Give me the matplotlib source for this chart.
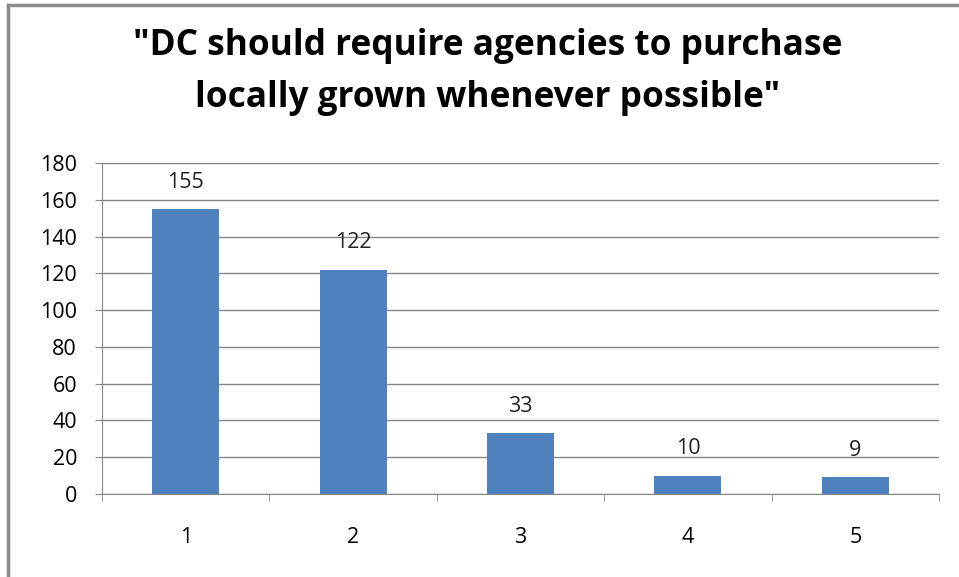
import matplotlib.pyplot as plt
from matplotlib.lines import Line2D

# データ
categories = ["1", "2", "3", "4", "5"]
counts = [155, 122, 33, 10, 9]
y_ticks = [0, 20, 40, 60, 80, 100, 120, 140, 160, 180]
title = '"DC should require agencies to purchase\nlocally grown whenever possible"'

W, H = 959, 577
fig = plt.figure(figsize=(W / 100, H / 100), dpi=100)
ax = fig.add_axes([102 / W, 1 - 494 / H, (939 - 102) / W, (494 - 163) / H])

grid_c = "#868686"
bar_c = "#4F81BD"

x = list(range(len(categories)))
ax.bar(x, counts, width=0.4, color=bar_c, zorder=3)
for xi, v in zip(x, counts):
    ax.text(xi, v + 14.5, str(v), ha="center", va="center", fontsize=15.5,
            family="Open Sans", color="#222222")

ax.set_xlim(-0.5, len(categories) - 0.5)
ax.set_ylim(0, 180)
ax.set_yticks(y_ticks)
ax.set_yticklabels([str(t) for t in y_ticks], fontsize=15.5, family="Open Sans")
ax.set_xticks(x)
ax.set_xticklabels(categories, fontsize=15.5, family="Open Sans")
ax.set_xticks([i - 0.5 for i in range(len(categories) + 1)], minor=True)
ax.tick_params(axis="x", which="major", length=0, pad=24)
ax.tick_params(axis="x", which="minor", length=5, color=grid_c)
ax.tick_params(axis="y", length=5, color=grid_c, pad=13)
ax.yaxis.grid(True, color=grid_c, linewidth=1)
ax.set_axisbelow(True)
for s in ["top", "right"]:
    ax.spines[s].set_visible(False)
ax.spines["left"].set_color(grid_c)
ax.spines["bottom"].set_color(grid_c)

fig.text(488 / W, 1 - 72 / H, title, ha="center", va="center", fontsize=25.4,
         fontweight="bold", family="Open Sans", linespacing=1.58)

# 外枠（上と左のみ）
fig.add_artist(Line2D([8 / W, 1], [1 - 5 / H, 1 - 5 / H], color="#8C8C8C", lw=2.5,
                      transform=fig.transFigure))
fig.add_artist(Line2D([8 / W, 8 / W], [0, 1 - 5 / H], color="#8C8C8C", lw=2.5,
                      transform=fig.transFigure))

fig.savefig("out.png", dpi=100, facecolor="white")
